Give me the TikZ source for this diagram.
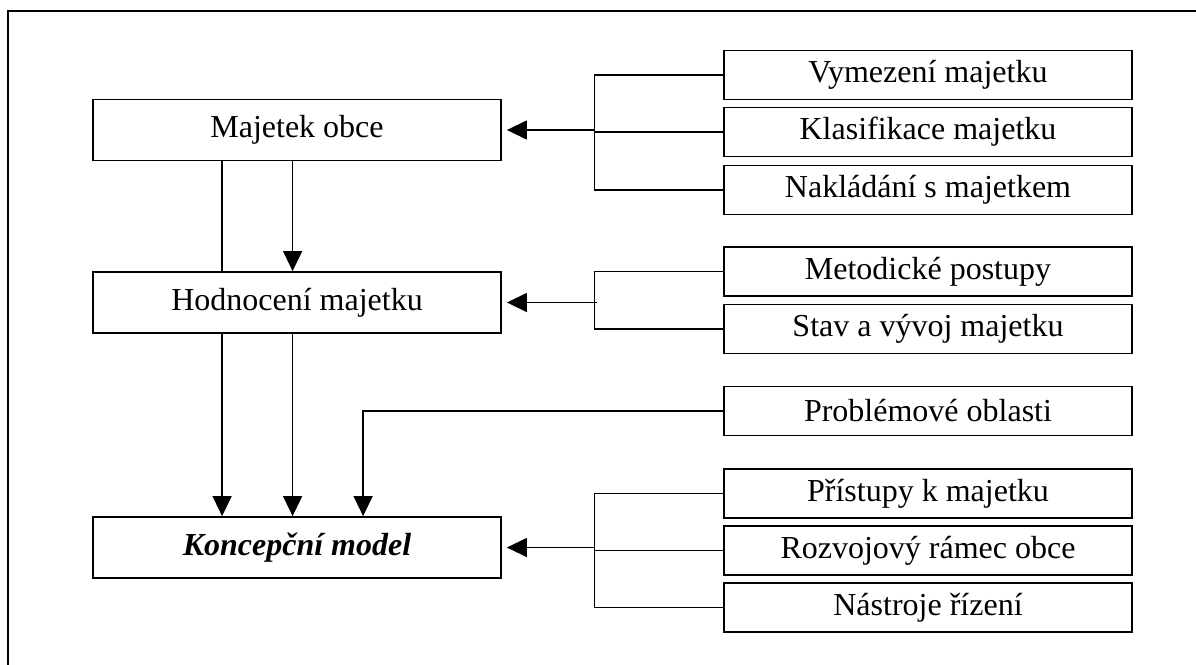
\documentclass[tikz,border=0pt]{standalone}
\usepackage{fontspec}
\setmainfont{Liberation Serif}
\usetikzlibrary{arrows.meta}
\begin{document}
\begin{tikzpicture}[x=1pt,y=-1pt,
  mainbox/.style={draw,line width=1.8pt,minimum width=408pt,minimum height=61pt,inner sep=0pt,
    font=\fontsize{32}{38}\selectfont},
  sidebox/.style={draw,line width=1.8pt,minimum width=408pt,minimum height=49pt,inner sep=0pt,
    font=\fontsize{32}{38}\selectfont},
  link/.style={line width=1.4pt},
  feed/.style={link,-{Triangle[length=20pt,width=19pt]}},
  sidefeed/.style={feed,shorten >=5pt}]
\useasboundingbox (0,0) rectangle (1196,664);
% outer frame, running past the right and bottom page edges
\begin{scope}
\clip (0,0) rectangle (1196,664);
\draw[line width=1.8pt] (8,11) rectangle (1210,680);
\end{scope}

% main column
\node[mainbox] (mo) at (297,130) {Majetek obce};
\node[mainbox] (hm) at (297,302.5) {Hodnocení majetku};
\node[mainbox] (km) at (297,547.5) {\textbf{\textit{Koncepční model}}};

% inputs on the right
\node[sidebox] (r1) at (928,75) {Vymezení majetku};
\node[sidebox] (r2) at (928,132) {Klasifikace majetku};
\node[sidebox] (r3) at (928,190) {Nakládání s majetkem};
\node[sidebox] (r4) at (928,271.5) {Metodické postupy};
\node[sidebox] (r5) at (928,329) {Stav a vývoj majetku};
\node[sidebox] (r6) at (928,411) {Problémové oblasti};
\node[sidebox] (r7) at (928,493.5) {Přístupy k majetku};
\node[sidebox] (r8) at (928,550.5) {Rozvojový rámec obce};
\node[sidebox] (r9) at (928,607.5) {Nástroje řízení};

\coordinate (bx) at (594.5,0);

% vertical flow between the main boxes
\draw[link] ([xshift=130pt]mo.south west) -- ([xshift=130pt]hm.north west);
\draw[feed] ([xshift=200.5pt]mo.south west) -- ([xshift=200.5pt]hm.north west);
\draw[feed] ([xshift=130pt]hm.south west) -- ([xshift=130pt]km.north west);
\draw[feed] ([xshift=200.5pt]hm.south west) -- ([xshift=200.5pt]km.north west);
\draw[feed] (r6.west) -| ([xshift=271pt]km.north west);

% first bracket
\draw[link] (r1.west) -- (r1.west -| bx) -- (r3.west -| bx) -- (r3.west);
\draw[link] (r2.west) -- (r2.west -| bx);
\draw[sidefeed] (bx |- mo.east) -- (mo.east);

% second bracket
\draw[link] (r4.west) -- (r4.west -| bx) -- (r5.west -| bx) -- (r5.west);
\draw[sidefeed] ([xshift=2pt]bx |- hm.east) -- (hm.east);

% third bracket
\draw[link] (r7.west) -- (r7.west -| bx) -- (r9.west -| bx) -- (r9.west);
\draw[link] (r8.west) -- (r8.west -| bx);
\draw[sidefeed] (bx |- km.east) -- (km.east);
\end{tikzpicture}
\end{document}
